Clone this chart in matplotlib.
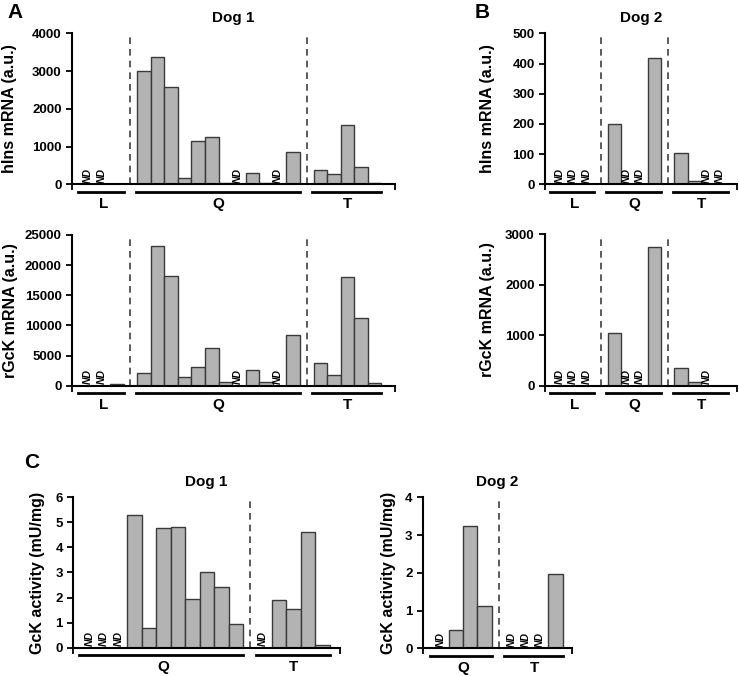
import matplotlib
matplotlib.use('Agg')
import numpy as np
import matplotlib.pyplot as plt
import matplotlib.transforms as mtransforms

plt.rcParams['font.family'] = ['Liberation Sans', 'DejaVu Sans']
plt.rcParams['font.weight'] = 'bold'

# None = ND (not detected)
# Dog 1, panel A
dog1_ins_L = [None, None, 20]
dog1_ins_Q = [3000, 3370, 2580, 170, 1140, 1260, 45, None, 300, 30, None, 845]
dog1_ins_T = [370, 280, 1580, 445, 35]
dog1_gck_L = [None, None, 270]
dog1_gck_Q = [2140, 23150, 18150, 1370, 3080, 6250, 700, None, 2600, 600, None, 8400]
dog1_gck_T = [3850, 1760, 18080, 11150, 380]

# Dog 2, panel B
dog2_ins_L = [None, None, None]
dog2_ins_Q = [200, None, None, 419]
dog2_ins_T = [105, 12, None, None]
dog2_gck_L = [None, None, None]
dog2_gck_Q = [1045, None, None, 2745]
dog2_gck_T = [355, 70, None, 0]

# panel C, GcK activity
act1_Q = [None, None, None, 5.28, 0.78, 4.79, 4.83, 1.94, 3.03, 2.43, 0.93]
act1_T = [None, 1.90, 1.56, 4.60, 0.09]
act2_Q = [None, 0.49, 3.23, 1.12]
act2_T = [None, None, None, 1.97]

BAR = '#b3b3b3'
EDGE = '#3a3a3a'


def panel(ax, groups, labels, yticks, xlim, ylabel, labx, title=None):
    # groups laid out one after another with one empty slot in between
    pos = 0
    for gi, (vals, lab) in enumerate(zip(groups, labels)):
        xs = np.arange(pos, pos + len(vals))
        for x, v in zip(xs, vals):
            if v is None:
                ax.text(x - 0.1, yticks[-1] * 0.01, 'ND', rotation=90, ha='center',
                        va='bottom', fontsize=7.5, fontstyle='italic', fontweight='bold')
            else:
                ax.bar(x, v, width=1.0, color=BAR, edgecolor=EDGE, linewidth=1.0)
        trans = mtransforms.blended_transform_factory(ax.transData, ax.transAxes)
        ax.plot([xs[0] - 0.85 if gi == 0 else xs[0] - 0.6, xs[-1] + 0.5], [-0.05, -0.05],
                color='black', lw=2, transform=trans, clip_on=False)
        ax.text((xs[0] + xs[-1]) / 2, -0.13, lab, transform=trans, ha='center',
                va='center', fontsize=11, fontweight='bold')
        pos = xs[-1] + 2
        if gi < len(groups) - 1:
            ax.axvline(xs[-1] + 1, ymin=0, ymax=0.98, color='#404040', lw=1.2,
                       linestyle=(0, (4, 3)))
    ax.set_xlim(*xlim)
    ax.set_ylim(0, yticks[-1])
    ax.set_yticks(yticks)
    ax.set_xticks(list(xlim))
    ax.set_xticklabels([])
    ax.tick_params(axis='both', direction='out', length=4, width=1.3, labelsize=9.5)
    for lab in ax.get_yticklabels():
        lab.set_fontweight('bold')
    for s in ['top', 'right']:
        ax.spines[s].set_visible(False)
    for s in ['left', 'bottom']:
        ax.spines[s].set_linewidth(1.5)
    ax.set_ylabel(ylabel, fontsize=11.5, fontweight='bold')
    ax.yaxis.set_label_coords(labx, 0.5)
    if title:
        ax.set_title(title, fontsize=11, fontweight='bold', pad=8)


fig = plt.figure(figsize=(7.39, 6.76), dpi=100)

axA1 = fig.add_axes([0.0974, 0.7274, 0.4371, 0.2233])
axA2 = fig.add_axes([0.0974, 0.4294, 0.4371, 0.2230])
axB1 = fig.add_axes([0.7375, 0.7274, 0.2598, 0.2233])
axB2 = fig.add_axes([0.7375, 0.4294, 0.2598, 0.2240])
axC1 = fig.add_axes([0.0992, 0.0419, 0.3609, 0.2225])
axC2 = fig.add_axes([0.5724, 0.0410, 0.2016, 0.2234])

panel(axA1, [dog1_ins_L, dog1_ins_Q, dog1_ins_T], ['L', 'Q', 'T'],
      [0, 1000, 2000, 3000, 4000], (-1.3, 22.5), 'hIns mRNA (a.u.)', -0.17, 'Dog 1')
panel(axA2, [dog1_gck_L, dog1_gck_Q, dog1_gck_T], ['L', 'Q', 'T'],
      [0, 5000, 10000, 15000, 20000, 25000], (-1.3, 22.5), 'rGcK mRNA (a.u.)', -0.168)
panel(axB1, [dog2_ins_L, dog2_ins_Q, dog2_ins_T], ['L', 'Q', 'T'],
      [0, 100, 200, 300, 400, 500], (-1.2, 13.2), 'hIns mRNA (a.u.)', -0.26, 'Dog 2')
panel(axB2, [dog2_gck_L, dog2_gck_Q, dog2_gck_T], ['L', 'Q', 'T'],
      [0, 1000, 2000, 3000], (-1.2, 13.2), 'rGcK mRNA (a.u.)', -0.26)
panel(axC1, [act1_Q, act1_T], ['Q', 'T'],
      [0, 1, 2, 3, 4, 5, 6], (-1.22, 17.2), 'GcK activity (mU/mg)', -0.105, 'Dog 1')
panel(axC2, [act2_Q, act2_T], ['Q', 'T'],
      [0, 1, 2, 3, 4], (-1.32, 9.16), 'GcK activity (mU/mg)', -0.18, 'Dog 2')

fig.text(0.010, 0.982, 'A', fontsize=15, fontweight='bold', va='center')
fig.text(0.642, 0.982, 'B', fontsize=15, fontweight='bold', va='center')
fig.text(0.033, 0.316, 'C', fontsize=15, fontweight='bold', va='center')

fig.savefig('out.png', dpi=100)
